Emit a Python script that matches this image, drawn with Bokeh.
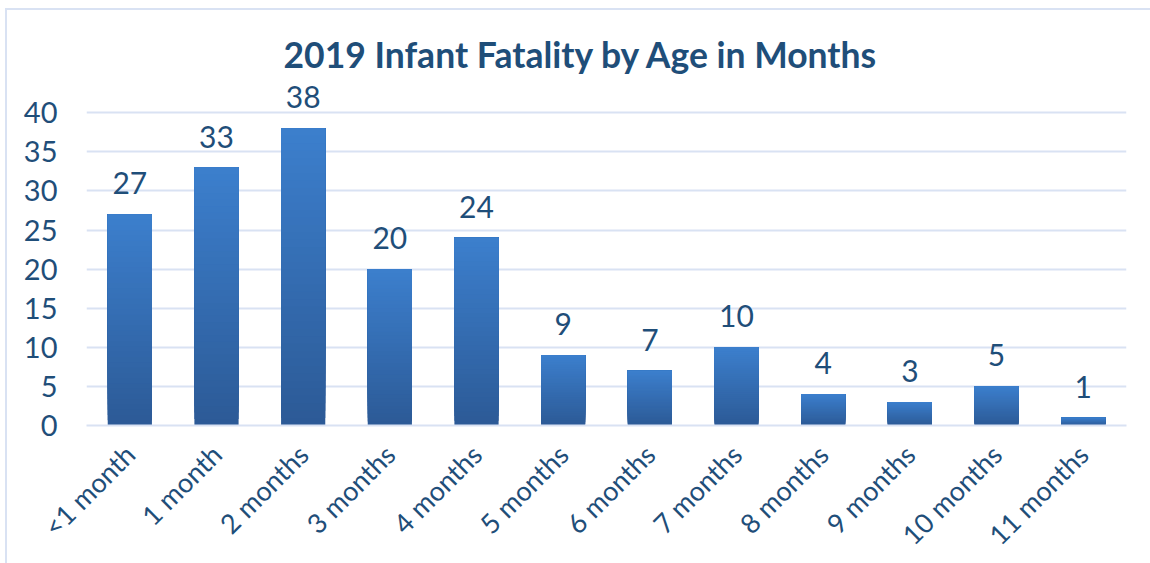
import math
from bokeh.plotting import figure
from bokeh.models import FactorRange, Range1d, FixedTicker, ColumnDataSource
from bokeh.core.properties import value
from bokeh.embed import file_html
from bokeh.resources import INLINE

categories = ["<1 month", "1 month", "2 months", "3 months", "4 months", "5 months",
              "6 months", "7 months", "8 months", "9 months", "10 months", "11 months"]
fatalities = [27, 33, 38, 20, 24, 9, 7, 10, 4, 3, 5, 1]
y_ticks = [0, 5, 10, 15, 20, 25, 30, 35, 40]
title_text = "2019 Infant Fatality by Age in Months"

TEXT = "#1F4E79"
GRID = "#D9E2F3"
FONT = "Lato"
TOP_RGB = (60, 127, 205)
BOT_RGB = (44, 90, 150)

p = figure(frame_width=1040, frame_height=344,
           x_range=FactorRange(*categories, range_padding=0),
           y_range=Range1d(0, 44), output_backend="svg", toolbar_location=None,
           min_border_left=86, min_border_right=24, min_border_top=81, min_border_bottom=138)
p.styles = {
    "background-image": "linear-gradient(%s, %s), linear-gradient(%s, %s)" % (GRID, GRID, GRID, GRID),
    "background-size": "2px 100%, 100% 2px",
    "background-position": "5px 8px, 5px 8px",
    "background-repeat": "no-repeat",
}
p.outline_line_color = None
p.background_fill_color = "white"
p.border_fill_color = None

p.title.text = title_text
p.title.align = "left"
p.title.offset = 197
p.title.text_font = FONT
p.title.text_font_size = "35.5px"
p.title.text_font_style = "bold"
p.title.text_color = TEXT
p.title.standoff = 12

# gradient bars: painted as overlapping layers from the base upward
N = 40
xs, bots, tops, cols = [], [], [], []
for i in range(N):
    f = (i + 0.5) / N
    rgb = tuple(int(round(BOT_RGB[k] + (TOP_RGB[k] - BOT_RGB[k]) * f)) for k in range(3))
    for c, v in zip(categories, fatalities):
        xs.append(c); bots.append(v * i / N); tops.append(v)
        cols.append("#%02x%02x%02x" % rgb)
p.vbar(x=xs, bottom=bots, top=tops, width=0.51, fill_color=cols, line_color=None)

src = ColumnDataSource(dict(x=categories, y=fatalities, t=[str(v) for v in fatalities]))
p.text(x="x", y="y", text="t", source=src, text_align="center", text_baseline="alphabetic",
       y_offset=-31, text_font=value(FONT), text_font_size="30px", text_color=TEXT)

p.xgrid.grid_line_color = None
p.ygrid.grid_line_color = GRID
p.ygrid.grid_line_width = 2
p.yaxis.ticker = FixedTicker(ticks=y_ticks)
p.yaxis.axis_line_color = None
p.yaxis.major_tick_line_color = None
p.yaxis.minor_tick_line_color = None
p.yaxis.major_label_standoff = 23
p.yaxis.major_label_text_font = FONT
p.yaxis.major_label_text_font_size = "29px"
p.yaxis.major_label_text_color = TEXT

p.xaxis.axis_line_color = GRID
p.xaxis.axis_line_width = 2
p.xaxis.major_tick_line_color = None
p.xaxis.minor_tick_line_color = None
p.xaxis.major_label_orientation = math.pi / 4
p.xaxis.major_label_standoff = 18
p.xaxis.major_label_text_font = FONT
p.xaxis.major_label_text_font_size = "27px"
p.xaxis.major_label_text_color = TEXT

open("out.html", "w").write(file_html(p, INLINE))
